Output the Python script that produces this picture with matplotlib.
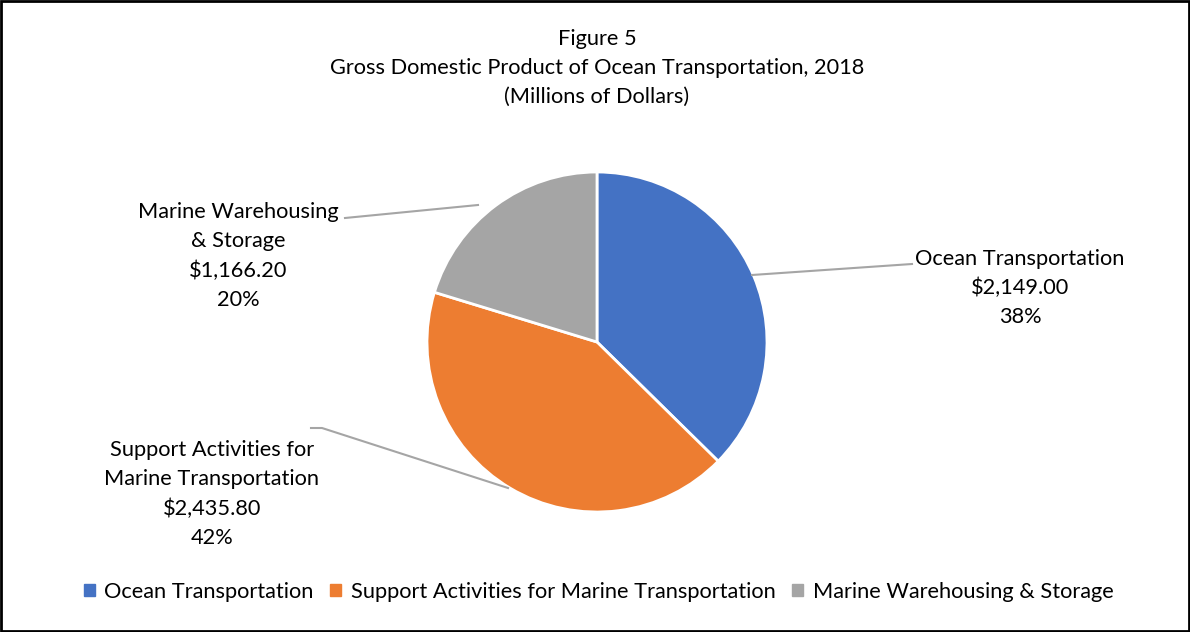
import matplotlib.pyplot as plt
import matplotlib.patches as mpatches

plt.rcParams['font.family'] = ['Lato', 'DejaVu Sans']

W, H = 1190, 632

categories = ['Ocean Transportation',
              'Support Activities for Marine Transportation',
              'Marine Warehousing & Storage']
values = [2149.00, 2435.80, 1166.20]
pct_labels = ['38%', '42%', '20%']
label_names = ['Ocean Transportation',
               'Support Activities for\nMarine Transportation',
               'Marine Warehousing\n& Storage']
colors = ['#4472C4', '#ED7D31', '#A5A5A5']

FS = 15.7
LS = 1.57


def py(y):
    # pixel rows counted from top -> data y counted from bottom
    return H - y


fig = plt.figure(figsize=(W / 100, H / 100), dpi=100)
ax = fig.add_axes([0, 0, 1, 1])

ax.pie(values, colors=colors, startangle=90, counterclock=False,
       center=(597, py(342)), radius=170,
       wedgeprops=dict(edgecolor='white', linewidth=2))
ax.set_xlim(0, W)
ax.set_ylim(0, H)
ax.set_aspect('equal')
ax.axis('off')

# title
ax.text(597, py(68), 'Figure 5\nGross Domestic Product of Ocean Transportation, 2018\n(Millions of Dollars)',
        ha='center', va='center', fontsize=FS, linespacing=LS)

# data labels with leader lines
lead = '#A5A5A5'
lbl = [f'{n}\n${v:,.2f}\n{p}' for n, v, p in zip(label_names, values, pct_labels)]

ax.plot([752, 912], [py(275), py(264)], color=lead, lw=1.5)
ax.text(1020, py(288), lbl[0], ha='center', va='center', fontsize=FS, linespacing=LS)

ax.plot([508, 322, 311], [py(488), py(428), py(428)], color=lead, lw=1.5)
ax.text(212, py(494), lbl[1], ha='center', va='center', fontsize=FS, linespacing=LS)

ax.plot([478, 345], [py(205), py(218)], color=lead, lw=1.5)
ax.text(238, py(256), lbl[2], ha='center', va='center', fontsize=FS, linespacing=LS)

handles = [mpatches.Patch(color=c) for c in colors]
fig.legend(handles, categories, loc='center', bbox_to_anchor=(0.503, 1 - 592 / H),
           ncol=3, frameon=False, fontsize=FS, handlelength=0.5, handleheight=0.5,
           handletextpad=0.45, columnspacing=0.75)

fig.patches.append(mpatches.Rectangle((0.001, 0.002), 0.998, 0.996, transform=fig.transFigure,
                                      fill=False, edgecolor='black', lw=2))

fig.savefig('out.png', dpi=100)
